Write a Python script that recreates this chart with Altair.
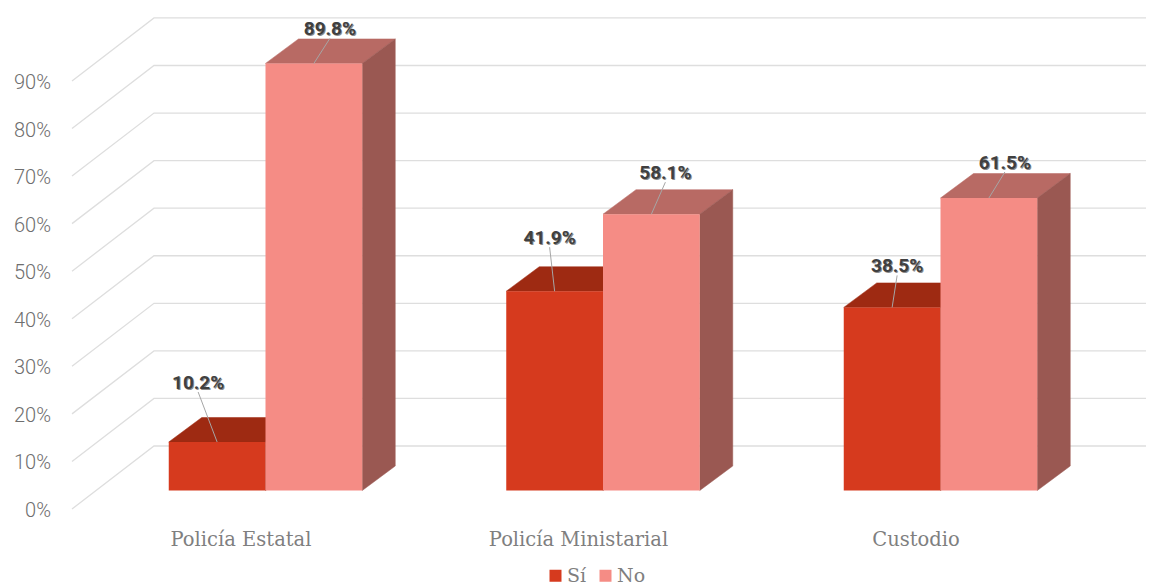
import altair as alt
import pandas as pd

categories = ["Policía Estatal", "Policía Ministarial", "Custodio"]
series_names = ["Sí", "No"]
si_values = [10.2, 41.9, 38.5]
no_values = [89.8, 58.1, 61.5]
tick_values = [0, 10, 20, 30, 40, 50, 60, 70, 80, 90]

front_colors = {"Sí": "#D63A1E", "No": "#F58C85"}
top_colors = {"Sí": "#9E2A12", "No": "#B86A64"}
side_colors = {"Sí": "#8A2A14", "No": "#9A5852"}

# label offsets from the bar's front-top centre, in screen px (dx, dy)
si_label_offsets = [(-19, -59), (-5, -53), (5, -41)]
no_label_offsets = [(16, -34), (14, -41), (16, -35)]

W, H = 1138, 578
PX_X = 337.5   # px per category
PX_Y = 4.756   # px per percentage point
X0 = 257.5     # plot px of the first category centre
Y0 = 482.5     # plot px of 0 % on the bars' front plane
xdom = [-X0 / PX_X, (W - X0) / PX_X]
ydom = [(Y0 - H) / PX_Y, Y0 / PX_Y]
BAR = 96.75 / PX_X
DX = 33 / PX_X
DY = 24.5 / PX_Y
# gridlines: front end and back wall relative to the bars' front plane
GX_FRONT = (64 - X0) / PX_X
GX_BACK = (146 - X0) / PX_X
GY_FRONT = -18.5 / PX_Y
GY_BACK = 44.5 / PX_Y

xs = alt.X("x:Q", scale=alt.Scale(domain=xdom, range=[0, W], nice=False, zero=False), axis=None)
ys = alt.Y("y:Q", scale=alt.Scale(domain=ydom, range=[H, 0], nice=False, zero=False), axis=None, stack=None)

# gridlines
grid = []
for t in tick_values:
    grid.append(dict(t=t, o=0, x=GX_FRONT, y=t + GY_FRONT))
    grid.append(dict(t=t, o=1, x=GX_BACK, y=t + GY_BACK))
    grid.append(dict(t=t, o=2, x=xdom[1], y=t + GY_BACK))
grid_layer = alt.Chart(pd.DataFrame(grid)).mark_line(
    color="#DEDEDE", strokeWidth=1.3
).encode(x=xs, y=ys, detail="t:N", order="o:Q")

# y tick labels
tick_df = pd.DataFrame(dict(
    x=[(43 - X0) / PX_X] * len(tick_values),
    y=[t + GY_FRONT for t in tick_values],
    label=[f"{t}%" for t in tick_values],
))
tick_layer = alt.Chart(tick_df).mark_text(
    align="right", baseline="middle", font="Roboto", fontWeight=300, fontSize=20, color="#6E6E6E", dy=2
).encode(x=xs, y=ys, text="label:N")

# category labels
cat_df = pd.DataFrame(dict(
    x=[i - 24.5 / PX_X for i in range(3)],
    y=[-48.5 / PX_Y] * 3,
    label=categories,
))
cat_layer = alt.Chart(cat_df).mark_text(
    align="center", baseline="middle", font="DejaVu Serif", fontWeight=300, fontSize=19.5, color="#7F7F7F", dy=1
).encode(x=xs, y=ys, text="label:N")

layers = [grid_layer, tick_layer, cat_layer]
color_scale = alt.Scale(domain=series_names, range=[front_colors[s] for s in series_names])
legend = alt.Legend(
    title=None, orient="none", legendX=538, legendY=558, direction="horizontal",
    symbolType="square", symbolSize=144, symbolStrokeWidth=0,
    labelFont="DejaVu Serif", labelFontSize=19, labelColor="#7F7F7F", columnPadding=9, labelOffset=2,
)


def polygon_layer(rows, color):
    return alt.Chart(pd.DataFrame(rows)).mark_line(
        fill=color, stroke=color, strokeWidth=0.5, interpolate="linear-closed"
    ).encode(x=xs, y=ys, detail="g:N", order="o:Q")


leader_rows, label_rows = [], []
for si, (name, values, offs) in enumerate([("Sí", si_values, si_label_offsets), ("No", no_values, no_label_offsets)]):
    left = [i - BAR + si * BAR for i in range(3)]
    front = pd.DataFrame(dict(x=left, x2=[l + BAR for l in left], y=[0.0] * 3, y2=values, s=[name] * 3))
    top, side = [], []
    for i, (l, v) in enumerate(zip(left, values)):
        r = l + BAR
        top += [dict(g=i, o=0, x=l, y=v),
                dict(g=i, o=1, x=l + DX, y=v + DY),
                dict(g=i, o=2, x=r + DX, y=v + DY),
                dict(g=i, o=3, x=r, y=v)]
        side += [dict(g=i, o=0, x=r, y=0.0),
                 dict(g=i, o=1, x=r + DX, y=DY),
                 dict(g=i, o=2, x=r + DX, y=v + DY),
                 dict(g=i, o=3, x=r, y=v)]
        cx = l + BAR / 2
        dx, dy = offs[i]
        lx, ly = cx + dx / PX_X, v - dy / PX_Y
        leader_rows.append(dict(x=cx, y=v, x2=lx, y2=ly - 9 / PX_Y))
        label_rows.append(dict(x=lx, y=ly, label=f"{v}%"))
    layers.append(polygon_layer(top, top_colors[name]))
    layers.append(polygon_layer(side, side_colors[name]))
    layers.append(alt.Chart(front).mark_rect().encode(
        x=xs, x2="x2:Q", y=ys, y2="y2:Q",
        color=alt.Color("s:N", scale=color_scale, legend=legend)))

leader_layer = alt.Chart(pd.DataFrame(leader_rows)).mark_rule(color="#A6A6A6", strokeWidth=1).encode(
    x=xs, y=ys, x2="x2:Q", y2="y2:Q")
labels_df = pd.DataFrame(label_rows)
shadow_layer = alt.Chart(labels_df).mark_text(
    align="center", baseline="middle", font="Roboto", fontWeight="bold", fontSize=19,
    color="#707070", opacity=0.8, dx=1, dy=1
).encode(x=xs, y=ys, text="label:N")
label_layer = alt.Chart(labels_df).mark_text(
    align="center", baseline="middle", font="Roboto", fontWeight="bold", fontSize=19, color="#404040"
).encode(x=xs, y=ys, text="label:N")
layers += [leader_layer, shadow_layer, label_layer]

chart = alt.layer(*layers).properties(
    width=W, height=H, padding=0, autosize=alt.AutoSizeParams(type="none"), background="white"
).configure_view(stroke=None)

chart.save("out.html", embed_options={"renderer": "svg", "actions": False})
